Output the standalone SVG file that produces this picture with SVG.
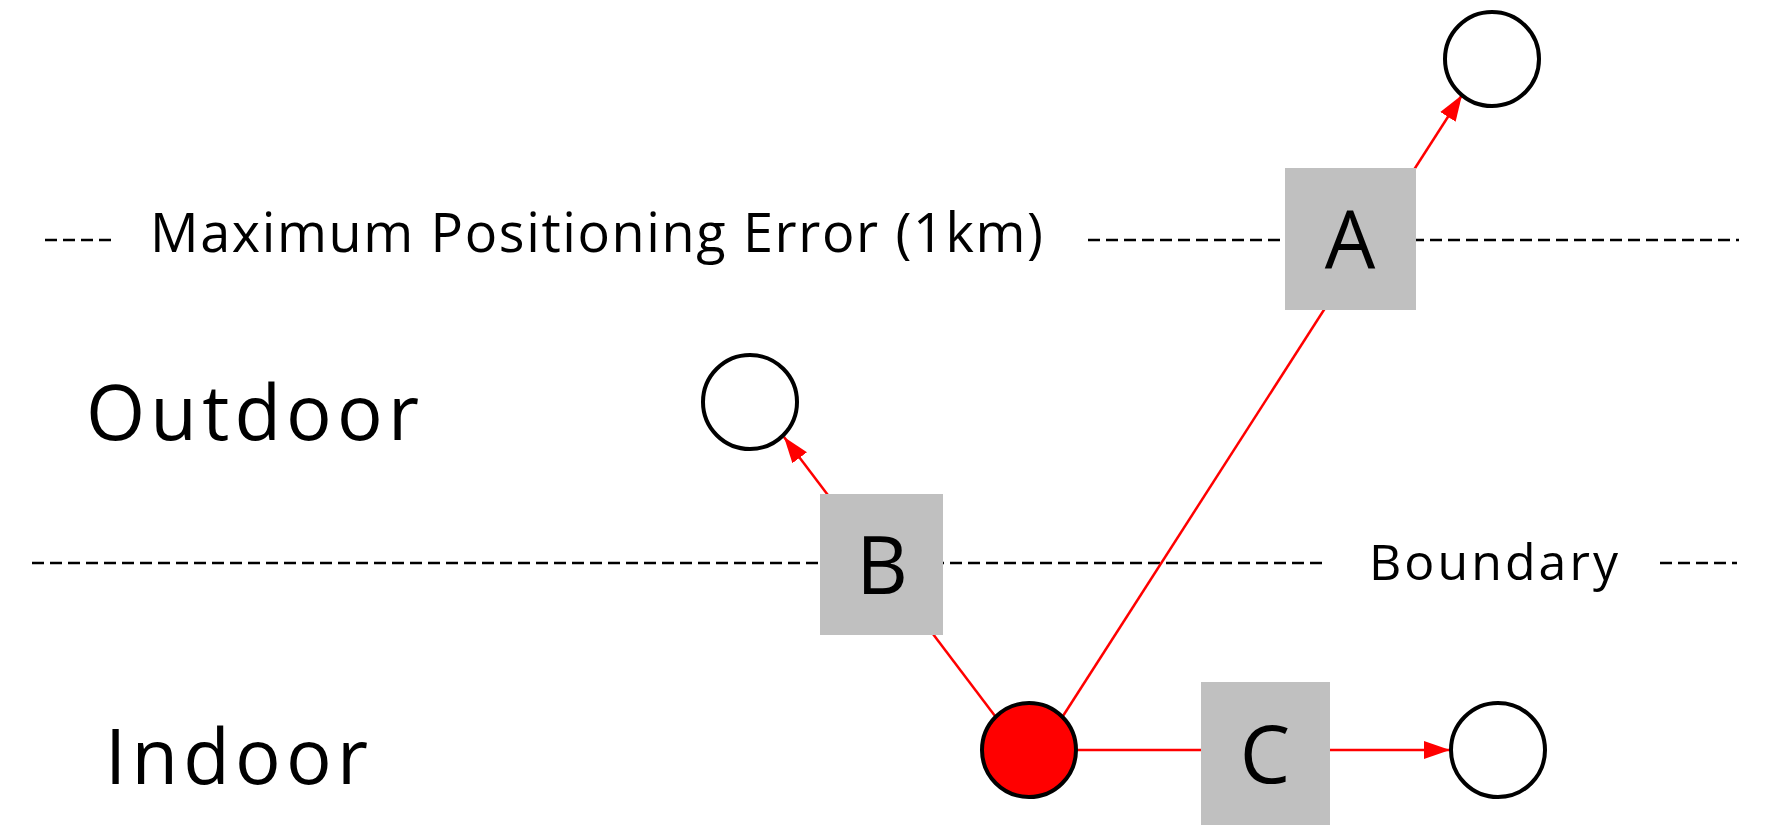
<svg xmlns="http://www.w3.org/2000/svg" width="1768" height="836" viewBox="0 0 1768 836">
<style>
text{font-family:"Open Sans","Noto Sans",sans-serif;fill:#000}
.d{stroke:#000;stroke-width:2.5;stroke-dasharray:12 6;fill:none}
.n{fill:#fff;stroke:#000;stroke-width:4}
.b{fill:#c0c0c0}
.e{stroke:#f00;stroke-width:2.5;fill:none}
.l{font-size:80px;text-anchor:middle}
</style>
<defs><marker id="ar" markerWidth="10" markerHeight="10" refX="9" refY="5" orient="auto" markerUnits="userSpaceOnUse" viewBox="0 0 10 10"><path d="M0,0L10,5L0,10z" fill="#f00" transform="scale(1)"/></marker>
<marker id="ah" viewBox="0 0 10 10" refX="10" refY="5" markerWidth="26" markerHeight="26" markerUnits="userSpaceOnUse" orient="auto"><path d="M0,1.5L10,5L0,8.5z" fill="#f00"/></marker></defs>
<g id="lines">
<path class="d" d="M45,240H111M1088,240H1739M32,563H1326M1660,563H1737"/>
<text x="150" y="252" font-size="54" textLength="893">Maximum Positioning Error (1km)</text>
<text x="1369" y="580" font-size="50" textLength="249">Boundary</text>
<text x="86" y="440" font-size="76" textLength="333">Outdoor</text>
<text x="105" y="784" font-size="76" textLength="263">Indoor</text>
</g>
<g id="connectors">
<path class="e" marker-end="url(#ah)" d="M1063,716L1462,95"/>
<path class="e" marker-end="url(#ah)" d="M995,716L784,437"/>
<path class="e" marker-end="url(#ah)" d="M1077,750L1450,750"/>
</g>
<g id="n-top"><circle class="n" cx="1492" cy="59" r="47"/></g>
<g id="n-out"><circle class="n" cx="750" cy="402" r="47"/></g>
<g id="n-src"><circle cx="1029" cy="750" r="47" fill="#f00" stroke="#000" stroke-width="4"/></g>
<g id="n-right"><circle class="n" cx="1498" cy="750" r="47"/></g>
<g id="box-a"><rect class="b" x="1285" y="168" width="131" height="142"/><text class="l" x="1350" y="268">A</text></g>
<g id="box-b"><rect class="b" x="820" y="494" width="123" height="141"/><text class="l" x="882" y="594">B</text></g>
<g id="box-c"><rect class="b" x="1201" y="682" width="129" height="143"/><text class="l" x="1265" y="783">C</text></g>
</svg>
